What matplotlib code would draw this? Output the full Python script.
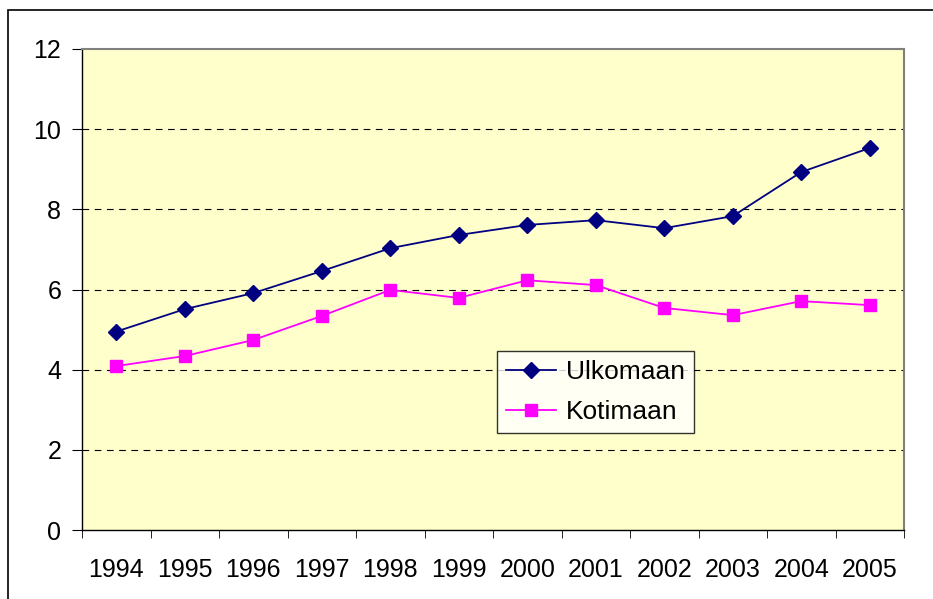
import numpy as np
import matplotlib.pyplot as plt
from matplotlib.patches import Rectangle

years = ['1994', '1995', '1996', '1997', '1998', '1999',
         '2000', '2001', '2002', '2003', '2004', '2005']
ulkomaan = [4.95, 5.51, 5.91, 6.46, 7.03, 7.36, 7.61, 7.73, 7.53, 7.83, 8.93, 9.53]
kotimaan = [4.09, 4.34, 4.74, 5.34, 5.99, 5.79, 6.23, 6.11, 5.54, 5.36, 5.71, 5.61]

plt.rcParams['font.family'] = ['Liberation Sans', 'DejaVu Sans']

fig = plt.figure(figsize=(9.33, 5.99), dpi=100)
ax = fig.add_axes([82 / 933, 69 / 599, 822 / 933, 481 / 599])
ax.set_facecolor('#FFFFCC')

x = np.arange(len(years))
ax.plot(x, ulkomaan, color='#000080', lw=1.3, marker='D', ms=8, label='Ulkomaan')
ax.plot(x, kotimaan, color='#FF00FF', lw=1.3, marker='s', ms=8, label='Kotimaan')

ax.set_xlim(-0.5, len(years) - 0.5)
ax.set_ylim(0, 12)
ax.set_yticks(range(0, 13, 2))
ax.set_xticks(x)
ax.set_xticklabels(years)
ax.set_xticks(np.arange(-0.5, len(years)), minor=True)
ax.tick_params(axis='x', which='major', length=0, pad=20, labelsize=18)
ax.tick_params(axis='x', which='minor', length=6, direction='out', color='#000000')
ax.tick_params(axis='y', length=7, direction='out', labelsize=18, pad=8)

for yv in range(2, 12, 2):
    ax.axhline(yv, color='#000000', lw=0.8, ls=(0, (6, 5)), zorder=0.5)

for s in ['left', 'bottom']:
    ax.spines[s].set_color('#000000')
    ax.spines[s].set_linewidth(1.0)
for s in ['top', 'right']:
    ax.spines[s].set_color('#808080')
    ax.spines[s].set_linewidth(1.5)

leg = ax.legend(loc='lower left', bbox_to_anchor=(0.505, 0.2017), fontsize=19,
                frameon=True, fancybox=False, edgecolor='#000000',
                borderpad=0.35, borderaxespad=0, handlelength=1.9,
                handletextpad=0.35, labelspacing=0.6)
leg.get_frame().set_facecolor('#FFFFFF')
leg.get_frame().set_linewidth(1.0)

fig.add_artist(Rectangle((8 / 933, -0.01), 1.0, (599 - 10) / 599 + 0.01,
                         transform=fig.transFigure, fill=False,
                         edgecolor='#000000', lw=1.2))

fig.savefig('out.png', dpi=100)
